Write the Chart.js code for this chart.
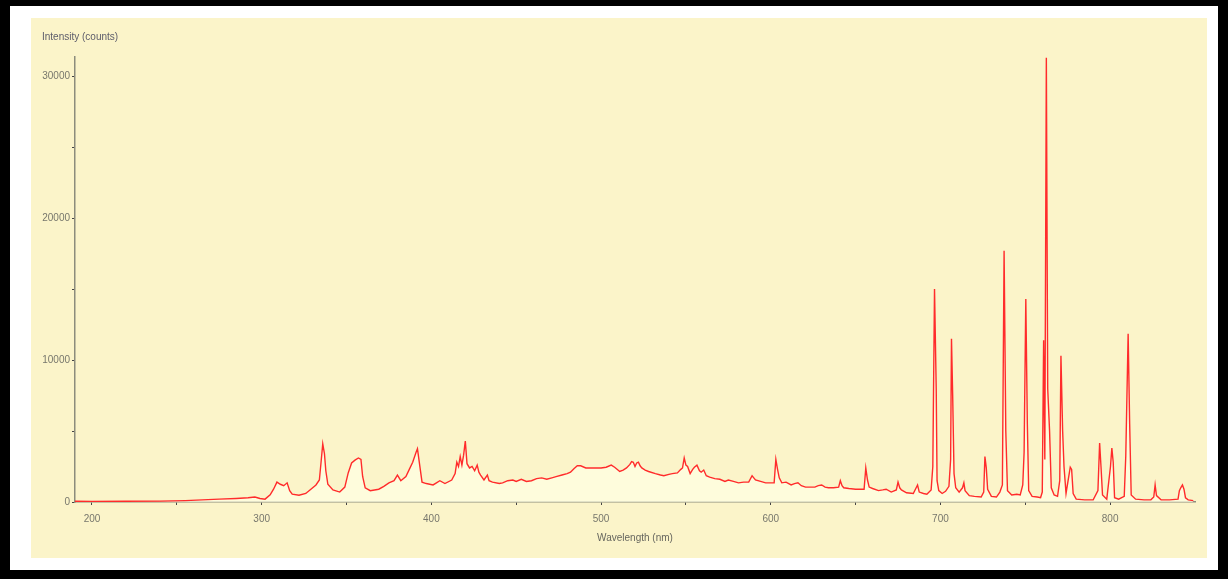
<!DOCTYPE html>
<html lang="en">
<head>
    <meta charset="UTF-8">
    <title>Emission Spectrum</title>
    <script src="https://cdn.jsdelivr.net/npm/chart.js"></script>
    <style>
        body {
            margin: 0;
            background: #000;
            width: 1228px;
            height: 579px;
            overflow: hidden;
            position: relative;
        }
        .frame {
            position: absolute;
            left: 10px;
            top: 6px;
            width: 1208px;
            height: 564px;
            background: #fff;
        }
        .panel {
            position: absolute;
            left: 31px;
            top: 18px;
            width: 1176px;
            height: 540px;
            background: #fbf4c9;
        }
    </style>
</head>
<body>
    <div class="frame"></div>
    <div class="panel">
        <canvas id="spectrum" width="1176" height="540"></canvas>
    </div>

    <script>
        // wavelength (nm) and intensity (counts)
        const wavelengths = [
            190, 200, 220, 240, 255, 265, 275, 285, 292, 296, 299, 302, 305, 307, 309, 311, 313, 315, 316.5, 318,
            322, 326, 329, 332, 334, 335, 336, 337, 337.8, 339, 342, 346, 349, 351, 353, 355, 357, 358.5, 359.5, 361,
            364, 369, 372, 375, 378, 380, 382, 385, 387, 389, 391, 391.8, 393, 394.5, 397, 401, 403, 405, 408, 412,
            414, 415, 416, 417, 418, 419, 420, 421, 422.5, 424, 425.5, 427, 428, 429, 431, 433, 434, 436, 440, 442,
            445, 448, 450, 453, 456, 459, 462, 465, 468, 471, 474, 477, 480, 482, 484, 486, 488, 491, 494, 497,
            500, 503, 506, 508, 511, 513, 515, 517, 518, 519, 520, 521, 522, 523, 524, 526, 528, 532, 535, 537,
            540, 542, 545, 547, 548, 549, 550, 551, 552.5, 554, 555, 556.5, 558, 559, 560.5, 562, 564, 567, 570, 573,
            575, 578, 581, 584, 587, 589, 590, 591, 594, 597, 602, 603, 604, 605, 606.5, 609, 612, 614, 616, 618,
            620.5, 623, 626, 628, 630, 632, 634, 637, 640, 641, 642, 643, 646, 650, 655, 656, 657, 658, 660, 663.5,
            666, 668, 671, 674, 675, 676, 677, 680, 684, 686.5, 687.5, 690, 692, 694.5, 695.5, 696.5, 697.5, 698, 699, 701,
            703, 705, 706, 706.5, 707.2, 708, 709, 711, 713, 713.8, 714.5, 717, 720, 724, 725.5, 726.2, 727, 727.8, 730, 733,
            735, 736.5, 737.5, 738.5, 739.5, 742, 745, 747, 748.5, 749.3, 750.3, 751.2, 752, 754, 757, 759, 760, 760.8, 761.5, 762.4,
            763.2, 764.3, 765.3, 767, 769, 770.3, 771, 772, 772.8, 774, 776.5, 777.3, 778.2, 780, 785, 790, 792.8, 793.8, 794.6, 795.5,
            798, 800.2, 801, 801.8, 802.6, 805, 808.3, 809.2, 810.6, 811.5, 812.4, 815, 820, 824, 825.7, 826.5, 827.3, 830, 835, 840,
            840.8, 841.6, 842.6, 843.5, 844.4, 846, 849
        ];
        const counts = [
            50, 40, 50, 60, 100, 150, 200, 250, 300, 350, 250, 200, 500, 900, 1400, 1250, 1150, 1350, 800, 550,
            480, 600, 900, 1200, 1550, 2800, 4100, 3400, 2200, 1250, 850, 700, 1050, 2050, 2750, 2950, 3100, 3000, 1800, 1000,
            800, 900, 1100, 1350, 1500, 1900, 1500, 1800, 2300, 2800, 3500, 3750, 2700, 1400, 1300, 1200, 1350, 1500, 1300, 1550,
            2000, 2800, 2500, 3200, 2600, 3300, 4300, 2700, 2400, 2500, 2200, 2600, 2100, 1900, 1550, 1900, 1500, 1400, 1300, 1350,
            1500, 1550, 1450, 1600, 1450, 1500, 1650, 1700, 1600, 1700, 1800, 1900, 2000, 2100, 2350, 2550, 2550, 2400, 2400, 2400,
            2400, 2450, 2600, 2450, 2150, 2250, 2400, 2650, 2850, 2800, 2500, 2750, 2800, 2550, 2400, 2250, 2150, 2000, 1900, 1850,
            1950, 2000, 2050, 2300, 2400, 3100, 2600, 2500, 2000, 2300, 2450, 2600, 2200, 2100, 2250, 1850, 1750, 1650, 1600, 1450,
            1550, 1450, 1350, 1400, 1400, 1850, 1700, 1550, 1450, 1350, 1350, 3000, 2300, 1700, 1350, 1400, 1200, 1300, 1350, 1150,
            1050, 1050, 1050, 1150, 1200, 1050, 1000, 1000, 1050, 1500, 1150, 1000, 950, 900, 900, 2400, 1550, 1050, 950, 800,
            850, 900, 700, 850, 1400, 1000, 850, 650, 600, 1200, 700, 600, 550, 850, 2500, 15000, 8000, 1500, 800, 600,
            750, 1100, 3000, 11500, 7500, 2000, 1000, 700, 1000, 1350, 800, 450, 400, 350, 700, 3200, 2400, 900, 400, 350,
            700, 1200, 17700, 5000, 800, 500, 550, 500, 1200, 3500, 14300, 5500, 800, 400, 350, 300, 700, 11400, 3000, 31300,
            8000, 5000, 1000, 500, 400, 1500, 10300, 5000, 2500, 600, 2450, 2300, 600, 200, 150, 150, 800, 4150, 2500, 500,
            200, 2500, 3800, 2800, 300, 200, 400, 3200, 11850, 5500, 500, 200, 150, 150, 350, 1200, 450, 150, 150, 200,
            800, 1000, 1200, 900, 300, 150, 100
        ];
        const xTickValues = [200, 250, 300, 350, 400, 450, 500, 550, 600, 650, 700, 750, 800];
        const yTickValues = [0, 5000, 10000, 15000, 20000, 25000, 30000];

        const points = wavelengths.map((w, i) => ({ x: w, y: counts[i] }));

        const axisTitle = {
            id: 'axisTitle',
            afterDraw(chart) {
                const ctx = chart.ctx;
                ctx.save();
                ctx.font = '10px "Liberation Sans", Arial, sans-serif';
                ctx.fillStyle = '#5c5c6a';
                ctx.textBaseline = 'middle';
                ctx.fillText('Intensity (counts)', 11, 19);
                ctx.restore();
            }
        };

        new Chart(document.getElementById('spectrum'), {
            type: 'line',
            data: {
                datasets: [{
                    data: points,
                    borderColor: '#ff2b2b',
                    borderWidth: 1.4,
                    pointRadius: 0,
                    tension: 0,
                    fill: 'origin',
                    backgroundColor: 'rgba(255, 255, 225, 0.75)'
                }]
            },
            options: {
                responsive: false,
                animation: false,
                layout: {
                    padding: { top: 39, right: 12, left: 0, bottom: 0 }
                },
                plugins: {
                    legend: { display: false },
                    tooltip: { enabled: false }
                },
                scales: {
                    x: {
                        type: 'linear',
                        min: 190,
                        max: 850,
                        afterBuildTicks: s => { s.ticks = xTickValues.map(v => ({ value: v })); },
                        afterFit: s => { s.height = 56; },
                        ticks: {
                            autoSkip: false,
                            maxRotation: 0,
                            padding: 8,
                            color: '#77776c',
                            font: { size: 10, family: '"Liberation Sans", Arial, sans-serif' },
                            callback: v => (v % 100 === 0 ? String(v) : '')
                        },
                        grid: {
                            drawOnChartArea: false,
                            drawTicks: true,
                            tickLength: 3,
                            color: '#444'
                        },
                        border: { display: true, color: '#8c8c7c', width: 1.5 },
                        title: {
                            display: true,
                            text: 'Wavelength (nm)',
                            color: '#66665e',
                            font: { size: 10, family: '"Liberation Sans", Arial, sans-serif' },
                            padding: { top: 0, bottom: 14 }
                        }
                    },
                    y: {
                        min: 0,
                        max: 31350,
                        afterBuildTicks: s => { s.ticks = yTickValues.map(v => ({ value: v })); },
                        afterFit: s => { s.width = 44; },
                        ticks: {
                            padding: 2,
                            color: '#77776c',
                            font: { size: 10, family: '"Liberation Sans", Arial, sans-serif' },
                            callback: v => (v % 10000 === 0 ? String(v) : '')
                        },
                        grid: {
                            drawOnChartArea: false,
                            drawTicks: true,
                            tickLength: 3,
                            color: '#444'
                        },
                        border: { display: true, color: '#8c8c7c', width: 1.5 }
                    }
                }
            },
            plugins: [axisTitle]
        });
    </script>
</body>
</html>
